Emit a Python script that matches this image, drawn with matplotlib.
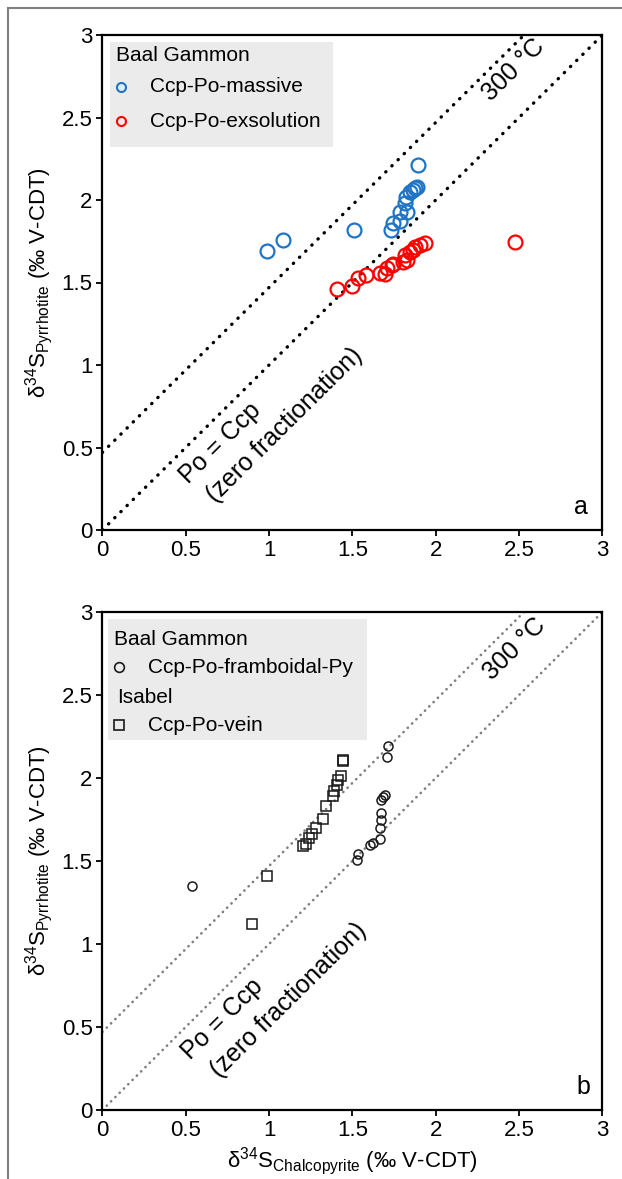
import matplotlib
matplotlib.use("Agg")
import matplotlib.pyplot as plt
import numpy as np
from matplotlib.patches import Rectangle
from matplotlib.lines import Line2D

plt.rcParams['font.family'] = ['Liberation Sans', 'DejaVu Sans']
plt.rcParams['mathtext.fontset'] = 'custom'
plt.rcParams['mathtext.rm'] = 'Liberation Sans'
plt.rcParams['mathtext.it'] = 'Liberation Sans:italic'
plt.rcParams['mathtext.bf'] = 'Liberation Sans:bold'

# ---------------- data ----------------
# Panel a: Baal Gammon
massive_ccp = [0.99, 1.085, 1.51, 1.895, 1.73, 1.745, 1.785, 1.785, 1.825, 1.815, 1.82, 1.845, 1.865, 1.885, 1.875]
massive_po = [1.69, 1.76, 1.82, 2.21, 1.82, 1.86, 1.87, 1.93, 1.93, 1.98, 2.02, 2.05, 2.06, 2.08, 2.07]

exsol_ccp = [1.41, 1.50, 1.535, 1.58, 1.665, 1.695, 1.705, 1.735, 1.745, 1.805, 1.825, 1.815, 1.845, 1.865, 1.875, 1.905, 1.935, 2.475]
exsol_po = [1.46, 1.48, 1.525, 1.545, 1.555, 1.55, 1.585, 1.605, 1.615, 1.625, 1.635, 1.665, 1.685, 1.70, 1.715, 1.725, 1.74, 1.745]

# Panel b: Baal Gammon framboidal and Isabel vein
framb_ccp = [1.715, 1.705, 1.695, 1.685, 1.67, 1.67, 1.67, 1.665, 1.665, 1.625, 1.605, 1.535, 1.53, 0.54]
framb_po = [2.19, 2.125, 1.90, 1.885, 1.865, 1.79, 1.75, 1.70, 1.63, 1.61, 1.595, 1.545, 1.505, 1.35]

vein_ccp = [1.445, 1.445, 1.43, 1.415, 1.405, 1.39, 1.385, 1.34, 1.325, 1.28, 1.255, 1.24, 1.22, 1.205, 0.985, 0.90]
vein_po = [2.10, 2.11, 2.01, 1.99, 1.96, 1.92, 1.89, 1.83, 1.755, 1.70, 1.66, 1.64, 1.60, 1.59, 1.41, 1.12]

# reference lines
line_x = [0.0, 3.0]
offset_300C = 0.47
ticks = [0, 0.5, 1, 1.5, 2, 2.5, 3]
tick_labels = ['0', '0.5', '1', '1.5', '2', '2.5', '3']

W, H = 622, 1179
fig = plt.figure(figsize=(W / 100, H / 100), dpi=100)

# figure border (left and top)
fig.add_artist(Line2D([8 / W, 8 / W], [0, 1 - 8 / H], transform=fig.transFigure, color='#808080', lw=1.5))
fig.add_artist(Line2D([8 / W, 1], [1 - 8 / H, 1 - 8 / H], transform=fig.transFigure, color='#808080', lw=1.5))

ax1 = fig.add_axes([102.4 / W, (H - 530) / H, 500 / W, 495 / H])
ax2 = fig.add_axes([102.4 / W, (H - 1110) / H, 500 / W, 498 / H])

ylabel = r'δ$^{34}$S$_{\mathrm{Pyrrhotite}}$ (‰ V-CDT)'
xlabel = r'δ$^{34}$S$_{\mathrm{Chalcopyrite}}$ (‰ V-CDT)'

TICK_FS = 16
LAB_FS = 16
LEG_FS = 15
ANN_FS = 18


def style_axes(ax):
    ax.set_xlim(0, 3)
    ax.set_ylim(0, 3)
    ax.set_xticks(ticks)
    ax.set_yticks(ticks)
    ax.set_xticklabels(tick_labels)
    ax.set_yticklabels(tick_labels)
    ax.tick_params(direction='out', length=4, width=1.3, labelsize=TICK_FS, pad=3, colors='black')
    for s in ax.spines.values():
        s.set_linewidth(1.6)
        s.set_color('black')
    ax.set_ylabel(ylabel, fontsize=LAB_FS, labelpad=5)


dot_a = dict(color='black', lw=2.4, linestyle=(0, (0.1, 2.5)), dash_capstyle='round', zorder=2)
dot_b = dict(color='#808080', lw=1.9, linestyle=(0, (0.1, 2.2)), dash_capstyle='round', zorder=2)

# ---------- panel a ----------
style_axes(ax1)
ax1.plot(line_x, [x + offset_300C for x in line_x], **dot_a)
ax1.plot(line_x, line_x, **dot_a)
ax1.plot(massive_ccp, massive_po, 'o', mfc='none', mec='#1f74c6', ms=10, mew=1.6, zorder=3)
ax1.plot(exsol_ccp, exsol_po, 'o', mfc='none', mec='#ff0000', ms=10, mew=1.6, zorder=3)

ax1.text(2.465, 2.79, '300 °C', rotation=44.7, fontsize=ANN_FS, ha='center', va='center', rotation_mode='anchor')
ax1.text(0.705, 0.525, 'Po = Ccp', rotation=44.7, fontsize=ANN_FS, ha='center', va='center', rotation_mode='anchor')
ax1.text(1.095, 0.636, '(zero fractionation)', rotation=44.7, fontsize=ANN_FS, ha='center', va='center', rotation_mode='anchor')
ax1.text(2.87, 0.14, 'a', fontsize=ANN_FS, ha='center', va='center')

# legend a
ax1.add_patch(Rectangle((0.015, 0.774), 0.446, 0.2125, transform=ax1.transAxes,
                        facecolor='#ebebeb', edgecolor='none', zorder=4))
ax1.text(0.027, 0.958, 'Baal Gammon', transform=ax1.transAxes, fontsize=LEG_FS, va='center', ha='left', zorder=5)
ax1.plot([0.037], [0.895], 'o', transform=ax1.transAxes, mfc='none', mec='#1f74c6', ms=6.5, mew=1.5, zorder=5)
ax1.text(0.095, 0.895, 'Ccp-Po-massive', transform=ax1.transAxes, fontsize=LEG_FS, va='center', ha='left', zorder=5)
ax1.plot([0.037], [0.826], 'o', transform=ax1.transAxes, mfc='none', mec='#ff0000', ms=6.5, mew=1.5, zorder=5)
ax1.text(0.095, 0.826, 'Ccp-Po-exsolution', transform=ax1.transAxes, fontsize=LEG_FS, va='center', ha='left', zorder=5)

# ---------- panel b ----------
style_axes(ax2)
ax2.plot(line_x, [x + offset_300C for x in line_x], **dot_b)
ax2.plot(line_x, line_x, **dot_b)
ax2.plot(framb_ccp, framb_po, 'o', mfc='none', mec='#1a1a1a', ms=6.5, mew=1.1, zorder=3)
ax2.plot(vein_ccp, vein_po, 's', mfc='none', mec='#1a1a1a', ms=6.5, mew=1.1, zorder=3)

ax2.text(2.475, 2.78, '300 °C', rotation=44.7, fontsize=ANN_FS, ha='center', va='center', rotation_mode='anchor')
ax2.text(0.72, 0.55, 'Po = Ccp', rotation=44.7, fontsize=ANN_FS, ha='center', va='center', rotation_mode='anchor')
ax2.text(1.12, 0.66, '(zero fractionation)', rotation=44.7, fontsize=ANN_FS, ha='center', va='center', rotation_mode='anchor')
ax2.text(2.885, 0.14, 'b', fontsize=ANN_FS, ha='center', va='center')
ax2.set_xlabel(xlabel, fontsize=LAB_FS, labelpad=3)

# legend b
ax2.add_patch(Rectangle((0.012, 0.743), 0.517, 0.243, transform=ax2.transAxes,
                        facecolor='#ebebeb', edgecolor='none', zorder=4))
ax2.text(0.023, 0.945, 'Baal Gammon', transform=ax2.transAxes, fontsize=LEG_FS, va='center', ha='left', zorder=5)
ax2.plot([0.033], [0.889], 'o', transform=ax2.transAxes, mfc='none', mec='#1a1a1a', ms=7, mew=1.2, zorder=5)
ax2.text(0.092, 0.889, 'Ccp-Po-framboidal-Py', transform=ax2.transAxes, fontsize=LEG_FS, va='center', ha='left', zorder=5)
ax2.text(0.029, 0.829, 'Isabel', transform=ax2.transAxes, fontsize=LEG_FS, va='center', ha='left', zorder=5)
ax2.plot([0.033], [0.773], 's', transform=ax2.transAxes, mfc='none', mec='#1a1a1a', ms=7, mew=1.2, zorder=5)
ax2.text(0.092, 0.773, 'Ccp-Po-vein', transform=ax2.transAxes, fontsize=LEG_FS, va='center', ha='left', zorder=5)

fig.savefig('out.png', dpi=100, facecolor='white')
